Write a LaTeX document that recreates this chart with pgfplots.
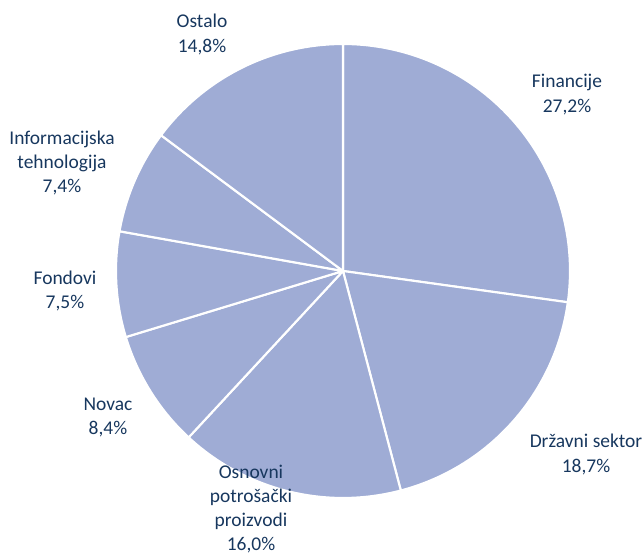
\documentclass[border=0pt]{standalone}
\usepackage{pgfplots}
\pgfplotsset{compat=1.18}
\usepackage{fontspec}
\setmainfont{Carlito}
\definecolor{piefill}{HTML}{9FACD5}
\definecolor{labeltxt}{HTML}{17375E}
% percentages: start (cumulative) and value
\newcommand{\slice}[2]{%
  \pgfmathsetmacro{\angA}{90-3.6*(#1+#2)}%
  \pgfmathsetmacro{\angB}{90-3.6*(#1)}%
  \addplot[fill=piefill, draw=white, line width=1.6pt, line join=round,
    domain=\angA:\angB, samples=80, variable=\t]
    ({343+227*cos(\t)},{285+227*sin(\t)}) -- (axis cs:343,285) -- cycle;
}
\begin{document}
\begin{tikzpicture}
\begin{axis}[
  width=482.25pt, height=417pt, scale only axis,
  xmin=0, xmax=643, ymin=0, ymax=556,
  hide axis, clip=false,
]
\path (rel axis cs:0,0) rectangle (rel axis cs:1,1);
\slice{0}{27.2}
\slice{27.2}{18.7}
\slice{45.9}{16.0}
\slice{61.9}{8.4}
\slice{70.3}{7.5}
\slice{77.8}{7.4}
\slice{85.2}{14.8}
\tikzset{lbl/.style={align=center, text=labeltxt, font=\fontsize{14.6}{18.2}\selectfont, inner sep=0pt}}
\node[lbl] at (axis cs:202,521.5) {Ostalo\\14,8\%};
\node[lbl] at (axis cs:567,461.5) {Financije\\27,2\%};
\node[lbl] at (axis cs:62,393) {Informacijska\\tehnologija\\7,4\%};
\node[lbl] at (axis cs:65,265) {Fondovi\\7,5\%};
\node[lbl] at (axis cs:108,138.5) {Novac\\8,4\%};
\node[lbl] at (axis cs:251,47) {Osnovni\\potrošački\\proizvodi\\16,0\%};
\node[lbl] at (axis cs:586,101.5) {Državni sektor\\18,7\%};
\end{axis}
\end{tikzpicture}
\end{document}
